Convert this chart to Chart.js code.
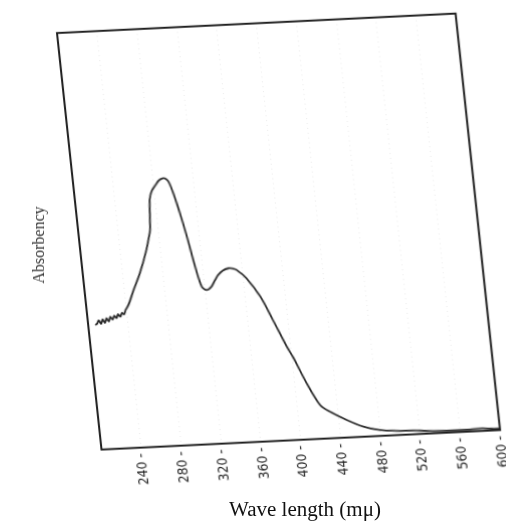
<!DOCTYPE html>
<html>
<head>
<meta charset="UTF-8">
<script src="https://cdn.jsdelivr.net/npm/chart.js"></script>
<style>
  html, body { margin: 0; padding: 0; background: #fff; }
  #wrap { position: relative; width: 506px; height: 526px; overflow: hidden; background: #fff; }
  #plot { position: absolute; }
  .ytitle { position: absolute; left: 39px; top: 245px; transform: translate(-50%, -50%) rotate(-90deg) scaleX(0.94);
    font-family: 'Liberation Serif', 'Times New Roman', serif; font-size: 17px; color: #333; white-space: nowrap; }
  .xtitle { position: absolute; left: 305px; top: 509px; transform: translate(-50%, -50%) scaleX(1.05);
    font-family: 'Liberation Serif', 'Times New Roman', serif; font-size: 20px; color: #111; white-space: nowrap; }
</style>
</head>
<body>
<div id="wrap">
  <canvas id="plot" width="430" height="490"></canvas>
  <div class="ytitle">Absorbency</div>
  <div class="xtitle">Wave length (mμ)</div>
</div>
<script>
// wavelength (mμ) and absorbance (0 = bottom of frame, 1 = top)
const WAVELENGTHS = [207, 209, 211, 213, 215, 217, 219, 221, 223, 225, 227, 229, 231, 233, 235, 237, 239, 241, 244,
  249, 257, 266, 271, 272, 273.5, 275, 278, 282, 286, 290.5, 293, 295.5, 299, 303.5, 308, 313,
  317.5, 322, 327, 331, 335, 340, 346, 350, 354, 363, 375, 385, 396, 401, 412, 423, 432, 448,
  464, 480, 497, 513, 530, 547, 567, 583, 594, 600];
const ABSORBANCE = [0.298, 0.301, 0.309, 0.300, 0.311, 0.302, 0.313, 0.305, 0.316, 0.309, 0.318, 0.312, 0.321, 0.315, 0.324, 0.320, 0.331, 0.337, 0.350,
  0.377, 0.416, 0.471, 0.510, 0.519, 0.560, 0.594, 0.613, 0.625, 0.636, 0.641, 0.639, 0.632, 0.604, 0.555, 0.498, 0.426,
  0.377, 0.369, 0.376, 0.390, 0.403, 0.413, 0.418, 0.417, 0.413, 0.392, 0.346, 0.289, 0.224, 0.199, 0.134, 0.081, 0.064, 0.042,
  0.024, 0.014, 0.010, 0.009, 0.006, 0.005, 0.005, 0.006, 0.004, 0.004];
const TICK_VALUES = [240, 280, 320, 360, 400, 440, 480, 520, 560, 600];

// where the (skewed) frame of the scan sits in the page
const FRAME_TL = [57, 33];
const FRAME_U = [398.5, -19.5];  // along the bottom/top edges
const FRAME_V = [44.5, 416.5];   // along the left/right edges

const boxPlugin = {
  id: 'box',
  afterDraw(chart) {
    const { ctx, chartArea: a } = chart;
    ctx.save();
    ctx.strokeStyle = '#1e1e1e';
    ctx.lineWidth = 2;
    ctx.strokeRect(a.left, a.top, a.right - a.left, a.bottom - a.top);
    ctx.restore();
  }
};

const canvas = document.getElementById('plot');
const chart = new Chart(canvas.getContext('2d'), {
  type: 'line',
  data: {
    datasets: [{
      data: WAVELENGTHS.map((w, i) => ({ x: w, y: ABSORBANCE[i] })),
      borderColor: '#262626',
      borderWidth: 1.8,
      pointRadius: 0,
      tension: 0.3,
      fill: false
    }]
  },
  options: {
    responsive: false,
    animation: false,
    layout: { padding: { top: 10, left: 10, right: 14, bottom: 4 } },
    plugins: { legend: { display: false }, tooltip: { enabled: false } },
    scales: {
      x: {
        type: 'linear',
        min: 200,
        max: 600,
        afterBuildTicks: (scale) => { scale.ticks = TICK_VALUES.map(v => ({ value: v })); },
        afterFit: (scale) => { scale.height = 46; },
        grid: { color: 'rgba(0,0,0,0.09)', drawTicks: false, lineWidth: 1 },
        border: { display: false, dash: [1, 4] },
        ticks: {
          autoSkip: false,
          maxRotation: 90,
          minRotation: 90,
          padding: 6,
          color: '#222',
          font: { family: "'Liberation Sans Narrow', 'DejaVu Sans Condensed', sans-serif", size: 14 },
          callback: (v) => v + ' -'
        }
      },
      y: { display: false, min: 0, max: 1 }
    }
  },
  plugins: [boxPlugin]
});

// skew the canvas so its plot area lands on the scanned frame
const ca = chart.chartArea;
const w = ca.right - ca.left, h = ca.bottom - ca.top;
canvas.style.transformOrigin = ca.left + 'px ' + ca.top + 'px';
canvas.style.transform = 'matrix(' + [FRAME_U[0] / w, FRAME_U[1] / w, FRAME_V[0] / h, FRAME_V[1] / h, 0, 0].join(',') + ')';
canvas.style.left = (FRAME_TL[0] - ca.left) + 'px';
canvas.style.top = (FRAME_TL[1] - ca.top) + 'px';
</script>
</body>
</html>
